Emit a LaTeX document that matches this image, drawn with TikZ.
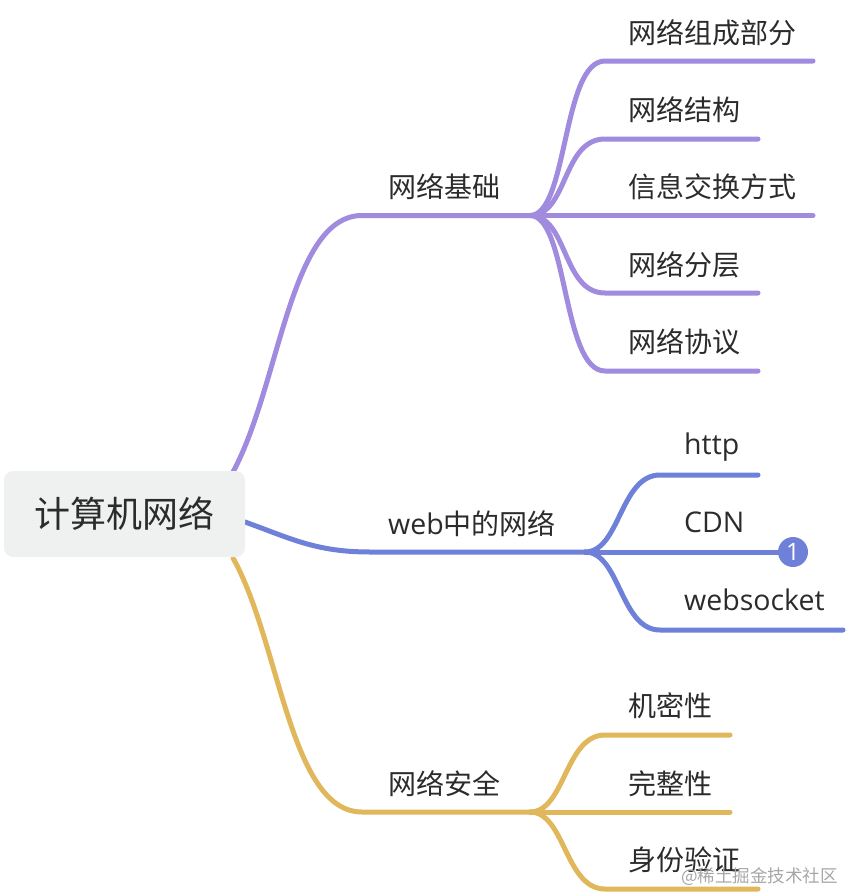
\documentclass[tikz,border=0pt]{standalone}
\usepackage{xcolor}
\usepackage{fontspec}
\setmainfont{Noto Sans CJK SC}
\newfontfamily\latinfont{Open Sans}
\usetikzlibrary{arrows.meta,positioning,calc}
\definecolor{netpurple}{HTML}{A08BDE}
\definecolor{netblue}{HTML}{6F80D8}
\definecolor{netyellow}{HTML}{E0B75B}
\definecolor{rootgray}{HTML}{EFF1F1}
\definecolor{inkgray}{HTML}{2B2B2B}
\tikzset{
	branch/.style={line width=5pt,line cap=round},
	topic/.style={anchor=west,inner sep=0pt,text=inkgray,font=\fontsize{28pt}{30pt}\selectfont},
	latintopic/.style={topic,font=\latinfont\fontsize{28.5pt}{30pt}\selectfont},
	roottopic/.style={fill=rootgray,rounded corners=9pt,minimum width=241pt,minimum height=86pt,inner sep=0pt,text=inkgray,font=\fontsize{36pt}{38pt}\selectfont},
}
\begin{document}
\begin{tikzpicture}[x=1pt,y=-1pt]
	\useasboundingbox (0,0) rectangle (846,894);
	
	% Stage 1: network basics
	\coordinate (rootup) at (233,472);
	\coordinate (jichu) at (530,215.5);
	\draw[branch,netpurple] (rootup) .. controls (280,385) and (290,215.5) .. (362,215.5) -- (jichu);
	\node[topic] (jichutext) at (388,187) {网络基础};
	\coordinate (a1) at (813,61);
	\coordinate (a2) at (758,139);
	\coordinate (a3) at (813,215.5);
	\coordinate (a4) at (758,293);
	\coordinate (a5) at (758,371);
	\draw[branch,netpurple] (jichu) .. controls (568,215.5) and (562,61) .. (605,61) -- (a1);
	\draw[branch,netpurple] (jichu) .. controls (568,215.5) and (562,139) .. (605,139) -- (a2);
	\draw[branch,netpurple] (jichu) -- (a3);
	\draw[branch,netpurple] (jichu) .. controls (568,215.5) and (562,293) .. (605,293) -- (a4);
	\draw[branch,netpurple] (jichu) .. controls (568,215.5) and (562,371) .. (605,371) -- (a5);
	\node[topic] (a1text) at (628,33) {网络组成部分};
	\node[topic] (a2text) at (628,110) {网络结构};
	\node[topic] (a3text) at (628,187) {信息交换方式};
	\node[topic] (a4text) at (628,265) {网络分层};
	\node[topic] (a5text) at (628,342) {网络协议};
	
	% Stage 2: web
	\coordinate (rootmid) at (245,522);
	\coordinate (web) at (585,552);
	\draw[branch,netblue] (rootmid) .. controls (290,538) and (315,552) .. (370,552) -- (web);
	\node[topic] (webtext) at (388,524) {{\latinfont\fontsize{28.5pt}{30pt}\selectfont web}中的网络};
	\node[circle,fill=netblue,minimum size=30pt,inner sep=0pt,text=white,font=\latinfont\fontsize{24pt}{26pt}\selectfont] (badge) at (793,552) {1};
	\coordinate (b1) at (758,475);
	\coordinate (b3) at (843,630);
	\draw[branch,netblue] (web) .. controls (620,552) and (620,475) .. (660,475) -- (b1);
	\draw[branch,netblue] (web) -- (badge);
	\draw[branch,netblue] (web) .. controls (620,552) and (620,630) .. (660,630) -- (b3);
	\node[latintopic] (b1text) at (684,447) {http};
	\node[latintopic] (b2text) at (684,522) {CDN};
	\node[latintopic] (b3text) at (684,600) {websocket};
	
	% Stage 3: security
	\coordinate (rootdown) at (233,558);
	\coordinate (anquan) at (530,812);
	\draw[branch,netyellow] (rootdown) .. controls (280,642) and (290,812) .. (362,812) -- (anquan);
	\node[topic] (anquantext) at (388,784) {网络安全};
	\coordinate (c1) at (730,735);
	\coordinate (c2) at (730,812);
	\coordinate (c3) at (758,889);
	\draw[branch,netyellow] (anquan) .. controls (565,812) and (565,735) .. (605,735) -- (c1);
	\draw[branch,netyellow] (anquan) -- (c2);
	\draw[branch,netyellow] (anquan) .. controls (565,812) and (565,889) .. (605,889) -- (c3);
	\node[topic] (c1text) at (628,706) {机密性};
	\node[topic] (c2text) at (628,784) {完整性};
	\node[topic] (c3text) at (628,860) {身份验证};
	
	% root on top of the branches
	\node[roottopic] (root) at (124.5,514) {计算机网络};
	
	% watermark
	\node[anchor=west,inner sep=0pt,text=gray!70,font=\fontsize{17.5pt}{19pt}\selectfont] (mark) at (681,877) {@稀土掘金技术社区};
\end{tikzpicture}
\end{document}
